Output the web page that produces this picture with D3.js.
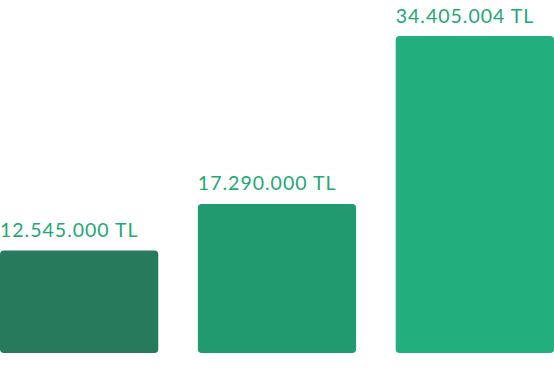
<!DOCTYPE html>
<html>
<head>
<meta charset="utf-8">
<script src="https://cdn.jsdelivr.net/npm/d3@7"></script>
<style>
  html, body { margin: 0; padding: 0; background: #ffffff; }
  svg { display: block; }
</style>
</head>
<body>
<svg id="chart" width="554" height="378"></svg>
<script>
const categories = ["A", "B", "C"];
const values = [12545000, 17290000, 34405004];
const labels = ["12.545.000 TL", "17.290.000 TL", "34.405.004 TL"];
const colors = ["#277a5b", "#229a6f", "#22af7d"];

const width = 554, height = 378;
const svg = d3.select("#chart");

const x = d3.scaleBand().domain(categories).range([0, 554]).paddingInner(0.2).paddingOuter(0);
const y = d3.scaleLinear().domain([2100000, 34405004]).range([353, 36]);

const g = svg.append("g");

g.selectAll("path.bar")
  .data(values)
  .enter().append("path")
  .attr("class", "bar")
  .attr("fill", (d, i) => colors[i])
  .attr("d", (d, i) => {
    const x0 = x(categories[i]), w = x.bandwidth();
    const y0 = y(d), y1 = y.range()[0];
    const r = 4;
    return `M${x0},${y0 + r}Q${x0},${y0} ${x0 + r},${y0}L${x0 + w - r},${y0}Q${x0 + w},${y0} ${x0 + w},${y0 + r}` +
           `L${x0 + w},${y1 - r}Q${x0 + w},${y1} ${x0 + w - r},${y1}L${x0 + r},${y1}Q${x0},${y1} ${x0},${y1 - r}Z`;
  });

g.selectAll("text.lbl")
  .data(values)
  .enter().append("text")
  .attr("class", "lbl")
  .attr("x", (d, i) => x(categories[i]))
  .attr("y", d => y(d) - 13.5)
  .attr("fill", "#22a874")
  .style("font-family", "Lato, 'Open Sans', sans-serif")
  .style("font-size", "19.5px")
  .style("letter-spacing", "1px")
  .text((d, i) => labels[i]);
</script>
</body>
</html>
